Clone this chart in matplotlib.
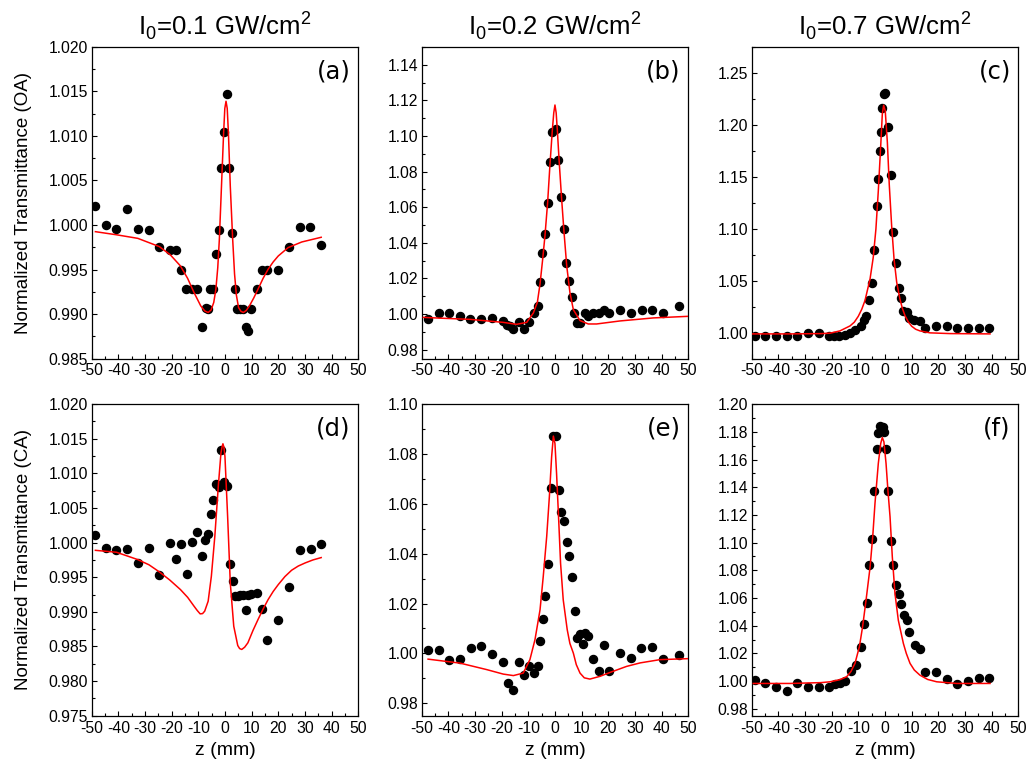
import matplotlib.pyplot as plt
import numpy as np
from matplotlib.ticker import MultipleLocator, FormatStrFormatter

plt.rcParams['font.family'] = ['Liberation Sans', 'DejaVu Sans']
plt.rcParams['mathtext.fontset'] = 'custom'
plt.rcParams['mathtext.rm'] = 'Liberation Sans'
plt.rcParams['axes.unicode_minus'] = False

# ---- measured points and fits (z in mm, normalized transmittance) ----

# (a) open aperture, I0 = 0.1 GW/cm2
z_a = [-48.6, -44.7, -40.8, -36.7, -32.7, -28.5, -24.6, -20.7, -18.4, -16.5,
       -14.5, -12.4, -10.4, -8.5, -7.2, -6.3, -5.6, -4.4, -3.4, -2.3,
       -1.4, -0.4, 0.8, 1.6, 2.8, 3.8, 4.5, 5.7, 6.9, 7.8,
       8.8, 9.7, 11.9, 13.8, 15.8, 19.8, 23.9, 28.0, 31.9, 36.1]
T_a = [1.0021, 1.0000, 0.9995, 1.0018, 0.9995, 0.9994, 0.9975, 0.9972, 0.9972, 0.9949,
       0.9928, 0.9928, 0.9928, 0.9885, 0.9907, 0.9906, 0.9928, 0.9928, 0.9967, 0.9994,
       1.0064, 1.0104, 1.0147, 1.0064, 0.9991, 0.9928, 0.9906, 0.9906, 0.9906, 0.9885,
       0.9881, 0.9906, 0.9928, 0.9950, 0.9950, 0.9950, 0.9975, 0.9998, 0.9998, 0.9978]
zfit_a = [-48.6, -40.7, -32.7, -24.6, -20.5, -16.7, -14.0, -11.6, -9.1, -7.6,
          -6.3, -5.2, -4.2, -3.4, -2.7, -2.1, -1.3, -0.5, -0.05, 0.4,
          0.85, 1.3, 2.0, 2.9, 3.6, 4.3, 5.1, 6.0, 6.9, 8.0,
          9.2, 10.8, 12.4, 14.3, 16.2, 18.1, 20.0, 23.7, 28.8, 36.1]
Tfit_a = [0.99925, 0.99890, 0.99850, 0.99757, 0.99665, 0.99540, 0.99400, 0.99241, 0.99092, 0.99035,
          0.99017, 0.99045, 0.99130, 0.99279, 0.99520, 0.99839, 1.00437, 1.01035, 1.01310, 1.01390,
          1.01310, 1.01035, 1.00437, 0.99839, 0.99450, 0.99210, 0.99073, 0.99030, 0.99017, 0.99040,
          0.99092, 0.99180, 0.99279, 0.99400, 0.99503, 0.99585, 0.99652, 0.99746, 0.99809, 0.99862]

# (b) open aperture, I0 = 0.2 GW/cm2
z_b = [-47.6, -43.6, -39.75, -35.75, -31.75, -27.6, -23.6, -19.6, -18.0, -17.0,
       -15.6, -13.6, -11.75, -9.6, -7.9, -6.5, -5.6, -4.9, -3.75, -2.75,
       -1.75, -1.0, 0.25, 1.25, 2.25, 3.25, 4.25, 5.25, 6.4, 7.25,
       8.25, 9.25, 11.25, 12.4, 14.4, 16.4, 18.4, 20.4, 24.5, 28.5,
       32.5, 36.5, 40.5, 46.5]
T_b = [0.9972, 1.0006, 1.0006, 0.9989, 0.9972, 0.9972, 0.9976, 0.9959, 0.9940, 0.9931,
       0.9916, 0.9957, 0.9918, 0.9957, 1.0006, 1.0047, 1.0182, 1.0341, 1.0451, 1.0626,
       1.0854, 1.1021, 1.1039, 1.0863, 1.0657, 1.0478, 1.0288, 1.0184, 1.0097, 1.0006,
       0.9951, 0.9951, 1.0006, 0.9987, 1.0006, 1.0006, 1.0023, 1.0006, 1.0024, 1.0006,
       1.0024, 1.0024, 1.0006, 1.0047]
zfit_b = [-49.4, -41.9, -31.9, -19.4, -14.4, -10.6, -8.1, -6.6, -5.6, -4.6,
          -3.75, -2.75, -1.9, -1.0, -0.45, 0.0, 0.45, 0.9, 1.6, 2.5,
          3.4, 4.4, 5.6, 6.9, 9.4, 12.5, 15.6, 24.4, 36.9, 50.0]
Tfit_b = [0.9981, 0.9976, 0.9970, 0.9953, 0.9942, 0.9953, 1.0006, 1.0066, 1.0169, 1.0309,
          1.0440, 1.0627, 1.0833, 1.1030, 1.1130, 1.1174, 1.1130, 1.1030, 1.0852, 1.0646,
          1.0459, 1.0272, 1.0122, 1.0024, 0.9963, 0.9944, 0.9944, 0.9961, 0.9978, 0.9987]

# (c) open aperture, I0 = 0.7 GW/cm2
z_c = [-48.9, -44.9, -40.9, -36.9, -32.9, -28.9, -24.9, -21.1, -19.1, -17.1,
       -15.1, -13.1, -11.1, -9.1, -7.9, -7.1, -6.1, -4.9, -4.0, -3.0,
       -2.5, -2.0, -1.5, -1.0, -0.5, 0.0, 1.1, 2.1, 3.1, 4.1,
       5.1, 6.1, 6.9, 8.4, 9.1, 10.9, 13.1, 15.1, 19.1, 23.1,
       27.1, 31.1, 35.1, 39.1]
T_c = [0.9971, 0.9971, 0.9971, 0.9971, 0.9971, 0.9997, 0.9997, 0.9971, 0.9971, 0.9971,
       0.9978, 0.9997, 1.0022, 1.0061, 1.0125, 1.0157, 1.0317, 1.0478, 1.0795, 1.1215,
       1.1478, 1.1744, 1.1933, 1.2163, 1.2298, 1.2304, 1.1981, 1.1519, 1.0965, 1.0667,
       1.0433, 1.0330, 1.0208, 1.0196, 1.0144, 1.0125, 1.0112, 1.0042, 1.0061, 1.0061,
       1.0042, 1.0042, 1.0042, 1.0042]
zfit_c = [-50.0, -35.6, -24.0, -20.6, -16.9, -13.1, -11.5, -10.0, -8.7, -7.5,
          -5.6, -4.4, -3.4, -2.5, -1.6, -1.0, -0.5, 0.1, 0.9, 1.6,
          2.5, 3.4, 4.4, 5.6, 6.5, 7.5, 8.7, 10.0, 11.5, 13.1,
          16.9, 24.4, 39.4]
Tfit_c = [0.9987, 0.9987, 0.9990, 0.9994, 1.0016, 1.0064, 1.0100, 1.0157, 1.0225, 1.0308,
          1.0516, 1.0724, 1.0997, 1.1365, 1.1798, 1.2103, 1.2189, 1.2135, 1.1830, 1.1429,
          1.1029, 1.0708, 1.0484, 1.0324, 1.0235, 1.0163, 1.0105, 1.0061, 1.0032, 1.0016,
          0.9997, 0.9990, 0.9987]

# (d) closed aperture, I0 = 0.1 GW/cm2
z_d = [-48.6, -44.7, -40.8, -36.7, -32.7, -28.5, -24.6, -20.6, -18.4, -16.5,
       -14.4, -12.4, -10.4, -8.5, -7.4, -6.4, -5.4, -4.4, -3.4, -2.4,
       -1.5, -0.5, 0.8, 1.8, 2.9, 3.8, 4.8, 5.8, 6.8, 7.8,
       8.6, 9.8, 11.9, 13.9, 15.9, 19.9, 24.0, 28.0, 32.1, 36.1]
T_d = [1.0011, 0.9992, 0.9989, 0.9991, 0.9970, 0.9992, 0.9953, 0.9999, 0.9976, 0.9998,
       0.9955, 1.0001, 1.0015, 0.9981, 1.0004, 1.0012, 1.0042, 1.0061, 1.0085, 1.0081,
       1.0134, 1.0088, 1.0082, 0.9969, 0.9944, 0.9923, 0.9923, 0.9924, 0.9924, 0.9902,
       0.9925, 0.9926, 0.9927, 0.9904, 0.9859, 0.9888, 0.9936, 0.9989, 0.9991, 0.9998]
zfit_d = [-48.6, -40.7, -32.7, -28.5, -24.6, -20.7, -16.7, -14.0, -11.6, -10.4,
          -9.3, -8.4, -7.6, -6.3, -5.1, -3.8, -2.5, -1.5, -1.1, -0.76,
          -0.4, 0.0, 1.0, 2.0, 3.3, 4.8, 5.5, 6.3, 7.4, 8.6,
          10.5, 12.4, 14.3, 16.2, 18.1, 20.0, 22.5, 25.0, 27.5, 30.1,
          33.0, 36.1]
Tfit_d = [0.99889, 0.99861, 0.99755, 0.99680, 0.99577, 0.99460, 0.99322, 0.99210, 0.99082, 0.99020,
          0.98971, 0.98975, 0.99010, 0.99154, 0.99514, 1.00091, 1.00813, 1.01293, 1.01380, 1.01428,
          1.01380, 1.01245, 1.00380, 0.99418, 0.98793, 0.98514, 0.98470, 0.98457, 0.98490, 0.98553,
          0.98730, 0.98889, 0.99040, 0.99178, 0.99295, 0.99394, 0.99510, 0.99601, 0.99662, 0.99707,
          0.99750, 0.99784]

# (e) closed aperture, I0 = 0.2 GW/cm2
z_e = [-47.6, -43.6, -39.6, -35.6, -31.6, -27.6, -23.6, -19.6, -17.75, -15.75,
       -13.6, -11.75, -9.6, -7.75, -6.5, -5.6, -4.6, -3.6, -2.6, -1.6,
       -0.6, 0.4, 1.4, 2.4, 3.4, 4.4, 5.4, 6.4, 7.4, 8.4,
       9.4, 10.4, 11.4, 12.4, 14.4, 16.4, 18.4, 20.4, 24.4, 28.4,
       32.4, 36.4, 40.4, 46.4]
T_e = [1.0012, 1.0012, 0.9975, 0.9977, 1.0020, 1.0029, 0.9999, 0.9967, 0.9881, 0.9855,
       0.9967, 0.9912, 0.9951, 0.9921, 0.9951, 1.0048, 1.0139, 1.0231, 1.0358, 1.0662,
       1.0872, 1.0872, 1.0656, 1.0566, 1.0533, 1.0446, 1.0391, 1.0306, 1.0171, 1.0060,
       1.0079, 1.0037, 1.0081, 1.0068, 0.9979, 0.9929, 1.0032, 0.9929, 1.0001, 0.9980,
       1.0021, 1.0024, 0.9977, 0.9995]
zfit_e = [-47.6, -35.6, -25.6, -19.4, -15.6, -11.9, -9.4, -7.5, -5.6, -4.4,
          -3.1, -2.1, -1.25, -0.6, 0.0, 0.6, 1.4, 2.1, 3.1, 4.6,
          5.6, 6.9, 8.0, 9.4, 11.0, 13.1, 16.9, 21.0, 26.9, 32.0,
          39.4, 50.0]
Tfit_e = [0.9977, 0.9961, 0.9935, 0.9917, 0.9911, 0.9921, 0.9975, 1.0055, 1.0175, 1.0308,
          1.0469, 1.0629, 1.0789, 1.0872, 1.0842, 1.0722, 1.0535, 1.0362, 1.0215, 1.0095,
          1.0040, 1.0001, 0.9955, 0.9921, 0.9902, 0.9897, 0.9908, 0.9925, 0.9948, 0.9962,
          0.9975, 0.9979]

# (f) closed aperture, I0 = 0.7 GW/cm2
z_f = [-48.9, -44.9, -40.9, -36.9, -32.9, -28.9, -24.9, -20.9, -18.9, -16.9,
       -14.9, -12.9, -10.9, -8.9, -7.9, -6.9, -5.9, -4.9, -4.0, -2.9,
       -2.5, -1.75, -0.9, -0.4, 0.25, 1.1, 2.1, 3.1, 4.1, 5.1,
       6.1, 7.1, 8.1, 9.1, 11.1, 13.1, 15.1, 19.1, 23.1, 27.1,
       31.1, 35.1, 39.1]
T_f = [1.0007, 0.9983, 0.9954, 0.9930, 0.9983, 0.9959, 0.9959, 0.9959, 0.9976, 0.9983,
       1.0002, 1.0072, 1.0113, 1.0248, 1.0414, 1.0562, 1.0835, 1.1025, 1.1374, 1.1673,
       1.1795, 1.1841, 1.1832, 1.1798, 1.1675, 1.1372, 1.1013, 1.0835, 1.0695, 1.0631,
       1.0560, 1.0478, 1.0444, 1.0356, 1.0263, 1.0229, 1.0063, 1.0067, 1.0017, 0.9976,
       1.0002, 1.0022, 1.0022]
zfit_f = [-49.4, -35.6, -24.0, -20.6, -17.0, -14.4, -12.8, -11.25, -9.6, -8.4,
          -7.1, -5.6, -4.6, -3.75, -2.5, -1.6, -1.0, -0.4, 0.4, 1.1,
          1.9, 2.75, 3.75, 5.0, 6.9, 8.0, 9.4, 11.0, 13.1, 16.0,
          19.4, 26.9, 39.4]
Tfit_f = [0.9983, 0.9983, 0.9989, 0.9995, 1.0010, 1.0031, 1.0068, 1.0128, 1.0248, 1.0392,
          1.0585, 1.0821, 1.1042, 1.1283, 1.1572, 1.1716, 1.1759, 1.1728, 1.1572, 1.1379,
          1.1187, 1.0898, 1.0633, 1.0440, 1.0272, 1.0200, 1.0128, 1.0080, 1.0043, 1.0012,
          0.9995, 0.9983, 0.9983]

titles = ['0.1', '0.2', '0.7']
panel_labels = ['(a)', '(b)', '(c)', '(d)', '(e)', '(f)']
ylabels = ['Normalized Transmittance (OA)', 'Normalized Transmittance (CA)']

data = [(z_a, T_a, zfit_a, Tfit_a), (z_b, T_b, zfit_b, Tfit_b), (z_c, T_c, zfit_c, Tfit_c),
        (z_d, T_d, zfit_d, Tfit_d), (z_e, T_e, zfit_e, Tfit_e), (z_f, T_f, zfit_f, Tfit_f)]

# y range, major step, tick format per panel
ylims = [(0.985, 1.020), (0.975, 1.15), (0.975, 1.275),
         (0.975, 1.020), (0.975, 1.10), (0.975, 1.20)]
ysteps = [0.005, 0.02, 0.05, 0.005, 0.02, 0.02]
yfmts = ['%.3f', '%.2f', '%.2f', '%.3f', '%.2f', '%.2f']

fig = plt.figure(figsize=(10.3, 7.7), dpi=100)

lefts = [0.0890, 0.4094, 0.7298]
bottoms = [0.5344, 0.0705]
w, h = 0.2588, 0.4046

for k in range(6):
    row, col = divmod(k, 3)
    ax = fig.add_axes([lefts[col], bottoms[row], w, h])
    z, T, zf, Tf = data[k]

    ax.plot(z, T, 'o', color='black', ms=5.8, mec='black', zorder=2)
    ax.plot(zf, Tf, '-', color='red', lw=1.1, zorder=3)

    ax.set_xlim(-50, 50)
    ax.set_ylim(*ylims[k])
    ax.xaxis.set_major_locator(MultipleLocator(10))
    ax.xaxis.set_minor_locator(MultipleLocator(5))
    ax.yaxis.set_major_locator(MultipleLocator(ysteps[k]))
    ax.yaxis.set_minor_locator(MultipleLocator(ysteps[k] / 2))
    ax.yaxis.set_major_formatter(FormatStrFormatter(yfmts[k]))

    ax.tick_params(which='both', direction='in', width=0.8, labelsize=11.3)
    ax.tick_params(which='major', length=3.6)
    ax.tick_params(which='minor', length=2.2)
    ax.tick_params(axis='x', pad=3.5)
    ax.tick_params(axis='y', pad=2.5)
    for sp in ax.spines.values():
        sp.set_linewidth(0.9)

    ax.text(0.972, 0.921, panel_labels[k], transform=ax.transAxes,
            ha='right', va='center', fontsize=17.5, family='DejaVu Sans')

    if col == 0:
        ax.set_ylabel(ylabels[row], fontsize=13.5)
        ax.yaxis.set_label_coords(-0.225, 0.5)
    if row == 1:
        ax.set_xlabel('z (mm)', fontsize=14)
        ax.xaxis.set_label_coords(0.5, -0.085)
    if row == 0:
        fig.text(lefts[col] + w / 2, 0.955,
                 r'I$_\mathregular{0}$=' + titles[col] + r' GW/cm$^\mathregular{2}$',
                 ha='center', va='baseline', fontsize=18.5)

fig.savefig('out.png', dpi=100)
